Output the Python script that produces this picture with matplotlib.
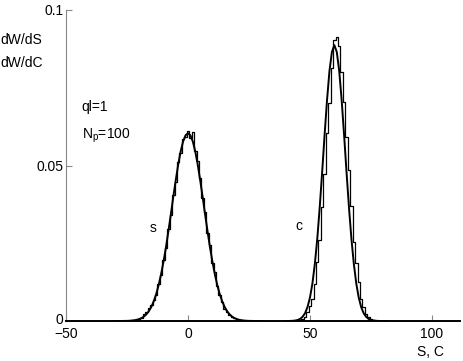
import matplotlib
matplotlib.use("Agg")
import matplotlib.pyplot as plt
import matplotlib.transforms as mtransforms

plt.rcParams["font.family"] = ["Liberation Sans", "DejaVu Sans"]
plt.rcParams["mathtext.default"] = "regular"

# smooth curve for S (x from -30 to 30, step 1)
s_x = list(range(-30, 31))
s_curve = [0, 0, 0, 0.00001, 0.000026, 0.00004, 0.00008, 0.00014, 0.00023, 0.00038,
           0.00061, 0.00096, 0.00146, 0.00219, 0.0032, 0.00456, 0.0064, 0.0087, 0.0116, 0.0151,
           0.0192, 0.0238, 0.0290, 0.0344, 0.0400, 0.0453, 0.0503, 0.0545, 0.0577, 0.0597,
           0.0604,
           0.0597, 0.0577, 0.0545, 0.0503, 0.0453, 0.0400, 0.0344, 0.0290, 0.0238, 0.0192,
           0.0151, 0.0116, 0.0087, 0.0064, 0.00456, 0.0032, 0.00219, 0.00146, 0.00096, 0.00061,
           0.00038, 0.00023, 0.00014, 0.00008, 0.00004, 0.000026, 0.00001, 0, 0, 0]

# histogram for S (bin centres -25..25)
s_bins = list(range(-25, 26))
s_hist = [0, 0, 0.0002, 0.0003, 0.0004, 0.0006, 0.0009, 0.0022, 0.0030, 0.0041,
          0.0052, 0.0068, 0.0085, 0.0120, 0.0148, 0.0195, 0.0235, 0.0295, 0.0340, 0.0405,
          0.0448, 0.0510, 0.0540, 0.0585, 0.0592,
          0.0612,
          0.0590, 0.0608, 0.0548, 0.0515, 0.0460, 0.0395, 0.0352, 0.0282, 0.0245, 0.0188,
          0.0158, 0.0112, 0.0085, 0.0060, 0.0040, 0.0030, 0.0020, 0.0014, 0.0009, 0.0005,
          0.0004, 0.0002, 0.0001, 0, 0]

# smooth curve for C (x from 40 to 82)
c_x = list(range(40, 83))
c_curve = [0, 0, 0.00003, 0.00007, 0.00016, 0.00034, 0.00070, 0.00137, 0.00253, 0.00447,
           0.0075, 0.0120, 0.0183, 0.0264, 0.0365, 0.0478, 0.0598, 0.0710, 0.0804, 0.0865,
           0.0887,
           0.0865, 0.0804, 0.0710, 0.0598, 0.0478, 0.0365, 0.0264, 0.0183, 0.0120, 0.0075,
           0.00447, 0.00253, 0.00137, 0.00070, 0.00034, 0.00016, 0.00007, 0.00003, 0, 0,
           0, 0]

# histogram for C (bin centres 45..77)
c_bins = list(range(45, 78))
c_hist = [0.0002, 0.0003, 0.0006, 0.0012, 0.0030, 0.0048, 0.0072, 0.0118, 0.0190, 0.0262,
          0.0368, 0.0472, 0.0605, 0.0700, 0.0812, 0.0905, 0.0912, 0.0885, 0.0800, 0.0705,
          0.0592, 0.0485, 0.0370, 0.0255, 0.0185, 0.0125, 0.0072, 0.0045, 0.0024, 0.0013,
          0.0007, 0.0003, 0.0001]

fig = plt.figure(figsize=(4.63, 3.61), dpi=100)
ax = fig.add_axes([0.1425, 0.1108, 0.851, 0.8615])

ax.step(s_bins, s_hist, where="mid", color="black", linewidth=0.9)
ax.step(c_bins, c_hist, where="mid", color="black", linewidth=0.9)
ax.plot(s_x, s_curve, color="black", linewidth=1.4)
ax.plot(c_x, c_curve, color="black", linewidth=1.4)

ax.set_xlim(-50, 111.5)
ax.set_ylim(0, 0.1)
ax.set_xticks([-50, 0, 50, 100])
ax.set_xticklabels(["\u221250", "0", "50", "100"])
ax.set_yticks([0, 0.05, 0.1])
ax.set_yticklabels(["0", "0.05", "0.1"])
ax.tick_params(direction="in", labelsize=10, length=4)
ax.tick_params(axis="y", colors="#888888", labelcolor="black", pad=2)
ax.tick_params(axis="x", colors="#888888", labelcolor="black", pad=4)

# lift the y "0" label a little so it clears the "-50" below it
zero_lbl = ax.get_yticklabels()[0]
zero_lbl.set_transform(zero_lbl.get_transform()
                       + mtransforms.ScaledTranslation(0, 3 / 100, fig.dpi_scale_trans))

for side in ("top", "right"):
    ax.spines[side].set_visible(False)
ax.spines["left"].set_color("#888888")
ax.spines["bottom"].set_color("black")
ax.spines["bottom"].set_linewidth(1.4)

fig.text(0.0, 1 - 40 / 361, "dW/dS", fontsize=10, va="center", ha="left")
fig.text(0.0, 1 - 63 / 361, "dW/dC", fontsize=10, va="center", ha="left")
ax.text(-43.5, 0.0688, "ql=1", fontsize=10, va="center")
ax.text(-43.5, 0.0595, "N$_p$=100", fontsize=10, va="center")
ax.text(-15.5, 0.0298, "s", fontsize=10, va="center")
ax.text(44, 0.0305, "c", fontsize=10, va="center")
fig.text(417 / 463, 1 - 352 / 361, "S, C", fontsize=10, va="center", ha="left")

fig.savefig("out.png", dpi=100)
